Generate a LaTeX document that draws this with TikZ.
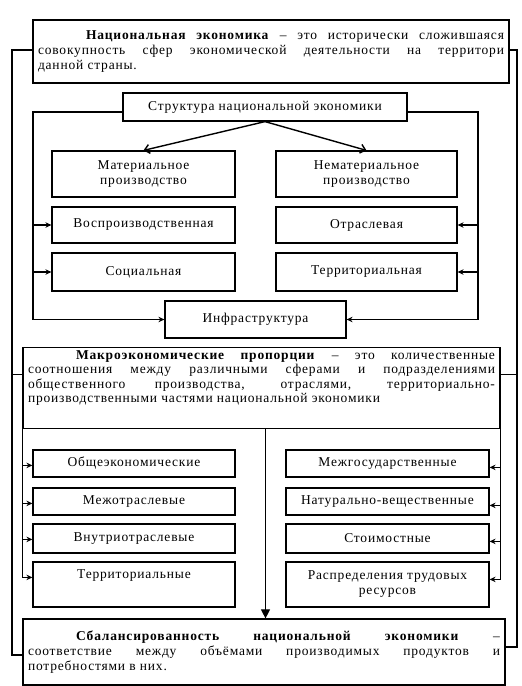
\documentclass[tikz,border=0pt]{standalone}
\usepackage{fontspec}
\setmainfont{Liberation Serif}[LetterSpace=6]
\usetikzlibrary{arrows.meta}

\begin{document}
\begin{tikzpicture}[x=1pt,y=-1pt,
	box/.style={draw=black, line width=1.2pt, fill=white, inner sep=0pt, align=center, font=\fontsize{13.5}{15}\selectfont},
	textbox/.style={box, align=justify, inner xsep=5pt, inner ysep=3pt},
	link/.style={draw=black, line width=1.1pt},
	pile/.style={link, -{Stealth[length=6pt,width=5.5pt]}},
	fork/.style={link, line width=1.4pt, -{Straight Barb[length=5pt,width=9pt]}},
	drop/.style={link, -{Triangle[length=9pt,width=9pt]}}]

	\useasboundingbox (0,0) rectangle (522,686);

	% Definition
	\node[textbox, text width=466pt, minimum height=63pt] (nat) at (271,51.5) {\hspace*{48pt}\textbf{Национальная экономика} – это исторически сложившаяся\linebreak совокупность сфер экономической деятельности на территори\linebreak данной страны.};

	% Structure
	\node[box, minimum width=284pt, minimum height=28pt] (str) at (265,107) {Структура национальной экономики};

	\node[box, minimum width=183pt, minimum height=46pt] (mat) at (143.5,174) {Материальное\\производство};
	\node[box, minimum width=181pt, minimum height=46pt] (nonmat) at (366.5,174) {Нематериальное\\производство};
	\node[box, minimum width=183pt, minimum height=36pt] (repr) at (143.5,225) {Воспроизводственная};
	\node[box, minimum width=181pt, minimum height=36pt] (bran) at (366.5,225) {Отраслевая};
	\node[box, minimum width=183pt, minimum height=38pt] (soc) at (143.5,272) {Социальная};
	\node[box, minimum width=181pt, minimum height=38pt] (terr) at (366.5,272) {Территориальная};
	\node[box, minimum width=181pt, minimum height=37pt] (infra) at (255.5,319.5) {Инфраструктура};

	\draw[fork] (str.south) -- (mat.north);
	\draw[fork] (str.south) -- (nonmat.north);

	\coordinate (innerL) at (33,0);
	\coordinate (innerR) at (478,0);
	\draw[pile] ([yshift=-5pt]str.west) -| (infra.west -| innerL) -- (infra.west);
	\draw[pile] ([yshift=-5pt]str.east) -| (infra.east -| innerR) -- (infra.east);
	\foreach \b in {repr,soc} \draw[pile] (\b.west -| innerL) -- (\b.west);
	\foreach \b in {bran,terr} \draw[pile] (\b.east -| innerR) -- (\b.east);

	% Proportions
	\node[textbox, text width=467pt, anchor=north, font=\fontsize{13.5}{14.5}\selectfont] (macro) at (261.5,347) {\hspace*{48pt}\textbf{Макроэкономические пропорции} – это количественные\linebreak соотношения между различными сферами и подразделениями\linebreak общественного производства, отраслями, территориально-\linebreak производственными частями национальной экономики\par\rule{0pt}{19pt}};

	\node[box, minimum width=202pt, minimum height=27pt] (lb1) at (134,463.5) {Общеэкономические};
	\node[box, minimum width=202pt, minimum height=27pt] (lb2) at (134,501.5) {Межотраслевые};
	\node[box, minimum width=202pt, minimum height=29pt] (lb3) at (134,538.5) {Внутриотраслевые};
	\node[box, minimum width=202pt, minimum height=45pt, text depth=20pt] (lb4) at (134,584.5) {Территориальные};

	\node[box, minimum width=203pt, minimum height=27pt] (rb1) at (387.5,463.5) {Межгосударственные};
	\node[box, minimum width=203pt, minimum height=27pt] (rb2) at (387.5,501.5) {Натурально-вещественные};
	\node[box, minimum width=203pt, minimum height=29pt] (rb3) at (387.5,538.5) {Стоимостные};
	\node[box, minimum width=203pt, minimum height=45pt] (rb4) at (387.5,584.5) {Распределения трудовых\\ресурсов};

	\foreach \b in {lb1,lb2,lb3,lb4}{
		\coordinate (\b-in) at ([yshift=-16pt]\b.north west);
		\draw[pile] (\b-in -| macro.west) -- (\b-in);
	}
	\foreach \b in {rb1,rb2,rb3,rb4}{
		\coordinate (\b-in) at ([yshift=-18pt]\b.north east);
		\draw[pile] (\b-in -| macro.east) -- (\b-in);
	}
	\draw[link] (macro.south west) -- (lb4-in -| macro.west);
	\draw[link] (macro.south east) -- (rb4-in -| macro.east);

	% Balance
	\node[textbox, text width=472pt, minimum height=66pt] (bal) at (264,652) {\hspace*{48pt}\textbf{Сбалансированность национальной экономики} –\linebreak соответствие между объёмами производимых продуктов и\linebreak потребностями в них.};

	\draw[drop] ([xshift=4pt]macro.south) -- ([xshift=4pt]macro.south |- bal.north);

	% Outer rails
	\coordinate (railL) at (12,0);
	\coordinate (railR) at (517,0);
	\path ([yshift=1.5pt]nat.west) coordinate (natL) ([yshift=1.5pt]nat.east) coordinate (natR)
		([yshift=13.5pt]macro.west) coordinate (macL) ([yshift=13.5pt]macro.east) coordinate (macR)
		([yshift=-3pt]bal.west) coordinate (balL) ([yshift=5pt]bal.east) coordinate (balR);
	\draw[link] (natL) -| (balL -| railL) -- (balL);
	\draw[link] (natR) -| (balR -| railR) -- (balR);
	\draw[link] (macL) -- (macL -| railL);
	\draw[link] (macR) -- (macR -| railR);

\end{tikzpicture}
\end{document}
